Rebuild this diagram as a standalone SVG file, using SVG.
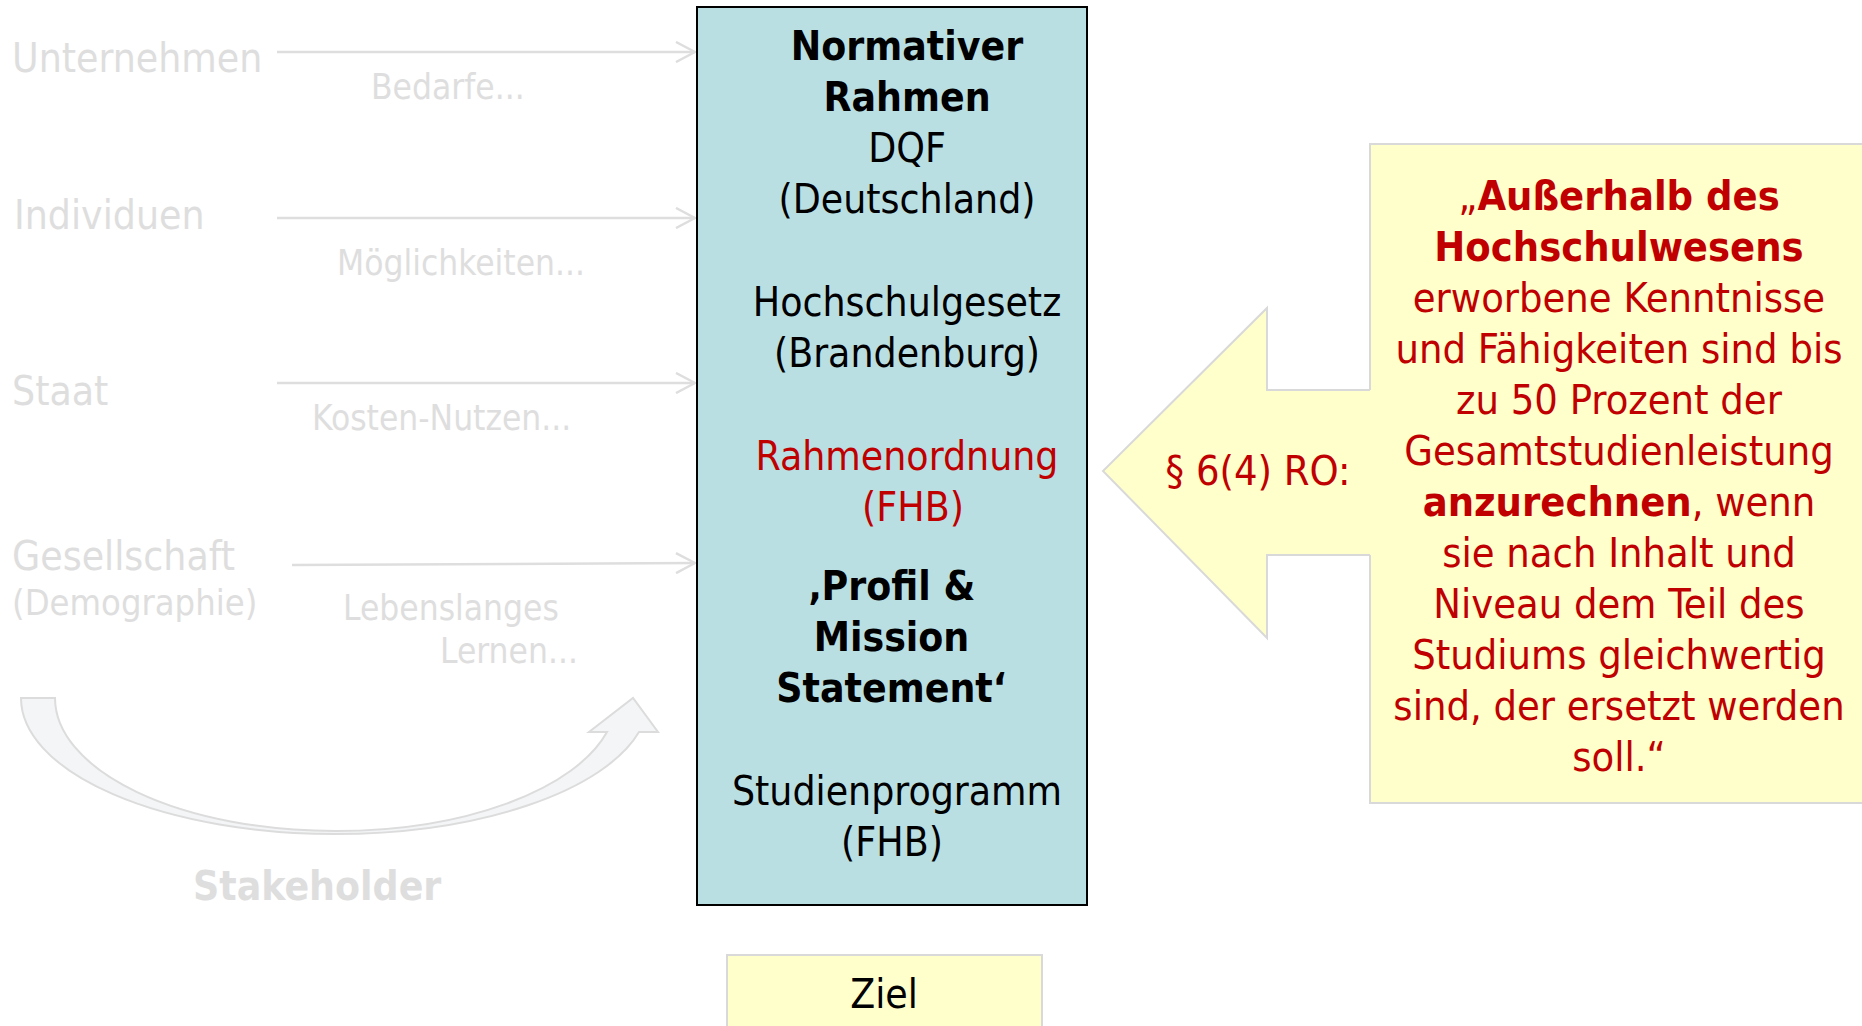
<svg xmlns="http://www.w3.org/2000/svg" width="1862" height="1026" viewBox="0 0 1862 1026">
<style>
text{font-family:'DejaVu Sans Condensed','DejaVu Sans',sans-serif;font-stretch:condensed;}
.g{fill:#dedede;font-size:40.5px;}
.gs{fill:#dedede;font-size:35px;}
.k{fill:#000;font-size:40.5px;text-anchor:middle;}
.r{fill:#c00000;font-size:40.5px;text-anchor:middle;}
.q{font-size:41.2px;}
.b{font-weight:bold;}
.ln{stroke:#dedede;stroke-width:2.5;fill:none;}
</style>
<defs>
<marker id="open" viewBox="0 0 22 22" refX="20" refY="11" markerWidth="22" markerHeight="22" markerUnits="userSpaceOnUse" orient="auto">
<path d="M1,1 L20,11 L1,21" fill="none" stroke="#dedede" stroke-width="2.5"/>
</marker>
</defs>
<rect width="1862" height="1026" fill="#fff"/>

<g id="stakeholders">
<text class="g" x="12" y="72">Unternehmen</text>
<text class="gs" x="371" y="99">Bedarfe...</text>
<text class="g" x="14" y="229">Individuen</text>
<text class="gs" x="337" y="275">Möglichkeiten...</text>
<text class="g" x="12" y="405">Staat</text>
<text class="gs" x="312" y="430">Kosten-Nutzen...</text>
<text class="g" x="12" y="570">Gesellschaft</text>
<text class="gs" x="12" y="615" style="font-size:36px">(Demographie)</text>
<text class="gs" x="343" y="620">Lebenslanges</text>
<text class="gs" x="440" y="663">Lernen...</text>
<path id="curved-arrow" d="M21,698 H55 A280,133 0 0 0 335,831 A280,133 0 0 0 607,732 H589 L633,698 L658,732 H639 A314,136 0 0 1 335,834 A314,136 0 0 1 21,698 Z" fill="#f3f5f6" stroke="#dcdcdc" stroke-width="2"/>
<text class="g b" x="193" y="900">Stakeholder</text>
</g>

<g id="connectors">
<line class="ln" x1="277" y1="52" x2="695" y2="52" marker-end="url(#open)"/>
<line class="ln" x1="277" y1="218" x2="695" y2="218" marker-end="url(#open)"/>
<line class="ln" x1="277" y1="383" x2="695" y2="383" marker-end="url(#open)"/>
<line class="ln" x1="292" y1="565" x2="695" y2="563" marker-end="url(#open)"/>
</g>

<g id="rahmen">
<rect x="697" y="7" width="390" height="898" fill="#b9dfe3" stroke="#000" stroke-width="2"/>
<text class="k b" x="907" y="60">Normativer</text>
<text class="k b" x="907" y="111">Rahmen</text>
<text class="k" x="907" y="162">DQF</text>
<text class="k" x="907" y="213">(Deutschland)</text>
<text class="k" x="907" y="316">Hochschulgesetz</text>
<text class="k" x="907" y="367">(Brandenburg)</text>
<text class="r" x="907" y="470">Rahmenordnung</text>
<text class="r" x="913" y="521">(FHB)</text>
<text class="k b" x="891.5" y="600">‚Profil &amp;</text>
<text class="k b" x="891.5" y="651">Mission</text>
<text class="k b" x="891.5" y="702">Statement‘</text>
<text class="k" x="897" y="805">Studienprogramm</text>
<text class="k" x="892" y="856">(FHB)</text>
</g>

<g id="ziel">
<rect x="727" y="955" width="315" height="90" fill="#ffffcc" stroke="#d9d9d9" stroke-width="2"/>
<text class="k" x="884" y="1008">Ziel</text>
</g>

<g id="zitat">
<rect x="1370" y="144" width="520" height="659" fill="#ffffcc" stroke="#d9d9d9" stroke-width="2"/>
<polygon points="1103,471 1267,308 1267,390 1372,390 1372,555 1267,555 1267,638" fill="#ffffcc"/>
<polyline points="1370,390 1267,390 1267,308 1103,471 1267,638 1267,555 1370,555" fill="none" stroke="#d9d9d9" stroke-width="2"/>
<text class="r q" x="1258" y="485">§ 6(4) RO:</text>
<text class="r q" x="1619" y="210">„<tspan class="b">Außerhalb des</tspan></text>
<text class="r q b" x="1619" y="261">Hochschulwesens</text>
<text class="r q" x="1619" y="312">erworbene Kenntnisse</text>
<text class="r q" x="1619" y="363">und Fähigkeiten sind bis</text>
<text class="r q" x="1619" y="414">zu 50 Prozent der</text>
<text class="r q" x="1619" y="465">Gesamtstudienleistung</text>
<text class="r q" x="1619" y="516"><tspan class="b">anzurechnen</tspan>, wenn</text>
<text class="r q" x="1619" y="567">sie nach Inhalt und</text>
<text class="r q" x="1619" y="618">Niveau dem Teil des</text>
<text class="r q" x="1619" y="669">Studiums gleichwertig</text>
<text class="r q" x="1619" y="720">sind, der ersetzt werden</text>
<text class="r q" x="1619" y="771">soll.“</text>
</g>
</svg>
